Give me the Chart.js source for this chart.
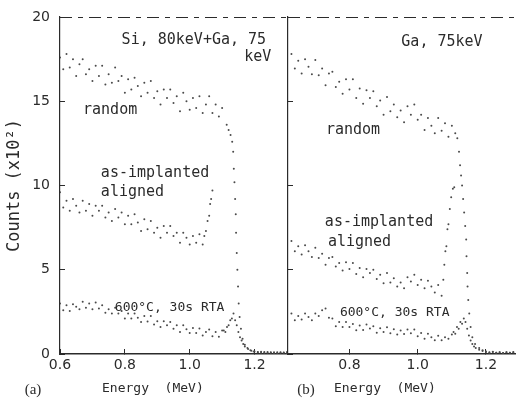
<!DOCTYPE html>
<html>
<head>
<meta charset="utf-8">
<script src="https://cdn.jsdelivr.net/npm/chart.js@4.4.1/dist/chart.umd.min.js"></script>
<style>
  body { margin: 0; background: #fff; }
  #wrap { position: relative; width: 516px; height: 401px; overflow: hidden; }
  canvas { position: absolute; top: 0; }
  #panelA { left: 0; }
  #panelB { left: 280px; }
</style>
</head>
<body>
<div id="wrap">
  <canvas id="panelA" width="288" height="401"></canvas>
  <canvas id="panelB" width="236" height="401"></canvas>
</div>
<script>
// ---------------- Data --------------------------------------------------

// axis ticks
const countTicks = [ 0, 5, 10, 15, 20 ] ;
const energyTicksA = [ 0.6, 0.8, 1.0, 1.2 ] ;
const energyTicksB = [ 0.8, 1.0, 1.2 ] ;

// (a) Si 80keV + Ga 75keV : channel energies (MeV) for the flat part
const energyA = [ 0.60, 0.61, 0.62, 0.63, 0.64, 0.65, 0.66, 0.67, 0.68, 0.69,
                  0.70, 0.71, 0.72, 0.73, 0.74, 0.75, 0.76, 0.77, 0.78, 0.79,
                  0.80, 0.81, 0.82, 0.83, 0.84, 0.85, 0.86, 0.87, 0.88, 0.89,
                  0.90, 0.91, 0.92, 0.93, 0.94, 0.95, 0.96, 0.97, 0.98, 0.99,
                  1.00, 1.01, 1.02, 1.03, 1.04, 1.05, 1.06, 1.07, 1.08, 1.09, 1.10 ] ;
const randomA = [ 17.6, 16.9, 17.8, 17.0, 17.5, 16.5, 17.2, 17.5, 16.6, 16.9,
                  16.2, 17.1, 16.5, 17.1, 16.0, 16.6, 16.1, 17.0, 16.2, 16.5,
                  15.5, 16.3, 15.7, 16.4, 15.9, 15.3, 16.1, 15.5, 16.2, 15.2,
                  15.6, 14.8, 15.7, 15.2, 15.7, 14.9, 15.3, 14.4, 15.5, 15.0,
                  14.5, 15.2, 14.6, 15.3, 14.3, 14.8, 15.3, 14.3, 14.8, 14.1, 14.6 ] ;
const alignedA = [ 9.6, 8.7, 9.1, 8.5, 9.2, 8.8, 8.4, 9.1, 8.5, 8.9,
                   8.2, 8.8, 8.5, 8.8, 8.1, 8.4, 7.9, 8.6, 8.1, 8.4,
                   7.7, 8.2, 7.7, 8.3, 7.8, 7.3, 8.0, 7.4, 7.9, 7.2,
                   7.5, 6.9, 7.6, 7.2, 7.6, 7.0, 7.2, 6.6, 7.2, 6.9,
                   6.5, 7.0, 6.6, 7.1, 6.5 ] ;
const rtaA = [ 3.0, 2.6, 2.9, 2.55, 2.95, 2.8, 2.65, 3.1, 2.75, 3.0,
               2.65, 3.05, 2.7, 2.9, 2.45, 2.65, 2.4, 2.75, 2.4, 2.55,
               2.1, 2.4, 2.1, 2.4, 2.15, 1.9, 2.25, 1.93, 2.25, 1.75,
               1.95, 1.6, 1.95, 1.7, 1.9, 1.5, 1.7, 1.3, 1.7, 1.47,
               1.25, 1.55, 1.25, 1.52, 1.1, 1.3, 1.45, 1.05, 1.3, 1.02, 1.4 ] ;

// (a) surface edges, sampled finer
const randomEdgeEA = [ 1.114, 1.12, 1.126, 1.131, 1.134, 1.136, 1.138, 1.140, 1.142, 1.143,
                       1.145, 1.147, 1.149, 1.151, 1.154, 1.158, 1.163, 1.17, 1.178, 1.187,
                       1.197, 1.21, 1.22, 1.23, 1.24, 1.25, 1.26, 1.27, 1.28, 1.29, 1.30 ] ;
const randomEdgeA = [ 13.6, 13.3, 13.0, 12.6, 12.0, 11.0, 10.2, 9.2, 8.3, 7.2,
                      6.0, 5.0, 4.0, 3.0, 2.2, 1.5, 0.9, 0.55, 0.35, 0.22,
                      0.15, 0.12, 0.08, 0.12, 0.07, 0.1, 0.06, 0.1, 0.07, 0.09, 0.06 ] ;
const alignedEdgeEA = [ 1.045, 1.05, 1.055, 1.06, 1.063, 1.066, 1.07 ] ;
const alignedEdgeA = [ 7.0, 7.3, 7.9, 8.2, 8.9, 9.2, 9.7 ] ;
const rtaEdgeEA = [ 1.105, 1.11, 1.115, 1.12, 1.125, 1.13, 1.135, 1.14, 1.145, 1.15,
                    1.155, 1.16, 1.165, 1.17, 1.18, 1.19, 1.20, 1.21, 1.22, 1.23,
                    1.24, 1.25, 1.26, 1.27, 1.28, 1.29, 1.30 ] ;
const rtaEdgeA = [ 1.4, 1.3, 1.6, 1.7, 2.0, 2.1, 2.4, 2.0, 1.7, 1.3,
                   1.0, 0.8, 0.6, 0.45, 0.3, 0.2, 0.15, 0.1, 0.14, 0.08,
                   0.12, 0.07, 0.11, 0.06, 0.1, 0.08, 0.12 ] ;

// (b) Ga 75keV
const energyB = [ 0.63, 0.64, 0.65, 0.66, 0.67, 0.68, 0.69, 0.70, 0.71, 0.72,
                  0.73, 0.74, 0.75, 0.76, 0.77, 0.78, 0.79, 0.80, 0.81, 0.82,
                  0.83, 0.84, 0.85, 0.86, 0.87, 0.88, 0.89, 0.90, 0.91, 0.92,
                  0.93, 0.94, 0.95, 0.96, 0.97, 0.98, 0.99, 1.00, 1.01, 1.02,
                  1.03, 1.04, 1.05, 1.06, 1.07, 1.08, 1.09, 1.10, 1.11 ] ;
const randomB = [ 17.8, 16.95, 17.4, 16.65, 17.5, 17.05, 16.6, 17.45, 16.55, 16.95,
                  15.95, 16.65, 16.75, 15.85, 16.15, 15.45, 16.3, 15.7, 16.3, 15.2,
                  15.75, 14.85, 15.65, 15.2, 15.6, 14.7, 15.05, 14.2, 15.25, 14.4,
                  14.8, 14.05, 14.45, 13.75, 14.7, 14.2, 14.8, 13.9, 14.2, 13.3,
                  14.0, 13.55, 13.1, 14.0, 13.25, 13.7, 12.9, 13.55, 13.1 ] ;
const alignedB = [ 6.7, 6.1, 6.4, 5.9, 6.45, 6.1, 5.75, 6.3, 5.7, 5.95,
                   5.3, 5.7, 5.75, 5.2, 5.4, 4.95, 5.45, 5.05, 5.4, 4.75,
                   5.1, 4.55, 5.05, 4.8, 5.0, 4.45, 4.7, 4.2, 4.8, 4.25,
                   4.5, 4.0, 4.25, 3.9, 4.55, 4.3, 4.7, 4.1, 4.4, 3.9,
                   4.35, 4.0, 3.65, 4.1, 3.45 ] ;
const rtaB = [ 2.4, 2.0, 2.25, 2.05, 2.4, 2.2, 2.0, 2.4, 2.25, 2.6,
               2.7, 2.15, 2.1, 1.65, 1.9, 1.6, 1.9, 1.6, 1.78, 1.41,
               1.69, 1.42, 1.75, 1.52, 1.64, 1.26, 1.53, 1.3, 1.59, 1.23,
               1.47, 1.16, 1.4, 1.18, 1.45, 1.23, 1.45, 1.05, 1.25, 0.9,
               1.2, 1.0, 0.82, 1.09, 0.82, 1.0, 0.9, 1.15 ] ;

const randomEdgeEB = [ 1.116, 1.121, 1.124, 1.127, 1.130, 1.133, 1.136, 1.139, 1.142, 1.143,
                       1.145, 1.146, 1.148, 1.151, 1.155, 1.16, 1.168, 1.18, 1.19, 1.20,
                       1.21, 1.22, 1.23, 1.24, 1.25, 1.26, 1.27, 1.28 ] ;
const randomEdgeB = [ 12.8, 12.0, 11.2, 10.6, 10.0, 9.2, 8.4, 7.6, 6.8, 5.8,
                      4.8, 4.0, 3.2, 2.4, 1.6, 1.0, 0.6, 0.35, 0.22, 0.15,
                      0.1, 0.13, 0.07, 0.11, 0.06, 0.1, 0.08, 0.12 ] ;
const alignedEdgeEB = [ 1.075, 1.078, 1.081, 1.084, 1.087, 1.09, 1.094, 1.098, 1.103, 1.107 ] ;
const alignedEdgeB = [ 4.4, 5.3, 6.1, 6.4, 7.4, 7.7, 8.6, 9.3, 9.8, 9.9 ] ;
const rtaEdgeEB = [ 1.105, 1.11, 1.115, 1.12, 1.125, 1.13, 1.135, 1.14, 1.145, 1.15,
                    1.155, 1.16, 1.165, 1.17, 1.18, 1.19, 1.20, 1.21, 1.22, 1.23,
                    1.24, 1.25, 1.26, 1.27, 1.28 ] ;
const rtaEdgeB = [ 1.3, 1.2, 1.6, 1.5, 1.9, 1.8, 2.1, 1.9, 1.5, 1.1,
                   0.8, 0.6, 0.45, 0.35, 0.25, 0.18, 0.12, 0.08, 0.12, 0.07,
                   0.1, 0.06, 0.1, 0.07, 0.09 ] ;

// ---------------- Look -------------------------------------------------
const INK = '#2b2b2b' ;
const DOT = '#4a4a4a' ;
const MONO = '"DejaVu Sans Mono", monospace' ;

// text notes, placed in data units (energy, counts)
const notesA = [
    { text: 'Si, 80keV+Ga, 75', e: 0.790, c: 18.64, size: 15 },
    { text: 'keV',              e: 1.168, c: 17.63, size: 15 },
    { text: 'random',           e: 0.671, c: 14.48, size: 15 },
    { text: 'as-implanted',     e: 0.726, c: 10.74, size: 15 },
    { text: 'aligned',          e: 0.726, c: 9.61,  size: 15 },
    { text: '600°C, 30s RTA',   e: 0.769, c: 2.73,  size: 13 }
] ;
const notesB = [
    { text: 'Ga, 75keV',        e: 0.952, c: 18.52, size: 15 },
    { text: 'random',           e: 0.731, c: 13.29, size: 15 },
    { text: 'as-implanted',     e: 0.728, c: 7.83,  size: 15 },
    { text: 'aligned',          e: 0.737, c: 6.65,  size: 15 },
    { text: '600°C, 30s RTA',   e: 0.772, c: 2.43,  size: 13 }
] ;

// ---------------- Helpers ----------------------------------------------
function pts( energy, counts ) {
    return counts.map( function( c, i ) { return { x: energy[i], y: c } ; } ) ;
}

function series( bulkE, bulk, edgeE, edge ) {
    return {
        data: pts( bulkE, bulk ).concat( pts( edgeE, edge ) ),
        pointRadius: 1,
        pointHoverRadius: 0,
        backgroundColor: DOT,
        borderWidth: 0,
        showLine: false
    } ;
}

const panelDecor = {
    id: 'panelDecor',
    afterDraw( chart, args, opts ) {
        const ctx = chart.ctx ;
        const area = chart.chartArea ;
        const xs = chart.scales.x, ys = chart.scales.y ;
        ctx.save() ;

        // dashed frame line along the top (20)
        const yTop = Math.round( ys.getPixelForValue( 20 ) ) + 0.5 ;
        ctx.strokeStyle = INK ;
        ctx.lineWidth = 1 ;
        ctx.setLineDash( [ 12, 6, 5, 6 ] ) ;
        ctx.beginPath() ;
        ctx.moveTo( area.left, yTop ) ;
        ctx.lineTo( chart.width, yTop ) ;
        ctx.stroke() ;
        ctx.setLineDash( [] ) ;

        // notes
        ctx.fillStyle = INK ;
        ctx.textBaseline = 'middle' ;
        ctx.textAlign = 'left' ;
        opts.notes.forEach( function( n ) {
            ctx.font = n.size + 'px ' + MONO ;
            ctx.fillText( n.text, xs.getPixelForValue( n.e ), ys.getPixelForValue( n.c ) ) ;
        } ) ;

        // caption under the axis
        ctx.font = '15px "Liberation Serif", serif' ;
        ctx.textAlign = 'center' ;
        ctx.fillText( opts.tag, opts.tagX, 390 ) ;
        ctx.font = '13px ' + MONO ;
        ctx.textAlign = 'left' ;
        ctx.fillText( 'Energy  (MeV)', opts.titleX, 389 ) ;
        ctx.restore() ;
    }
} ;

function xScale( min, max, ticks ) {
    return {
        type: 'linear', min: min, max: max,
        afterBuildTicks: function( s ) { s.ticks = ticks.map( function( v ) { return { value: v } ; } ) ; },
        afterFit: function( s ) { s.height = 47 ; },
        grid: { drawOnChartArea: false, drawTicks: true, tickLength: -5, color: INK, lineWidth: 1 },
        border: { display: true, color: INK, width: 1.5 },
        ticks: {
            padding: 8, color: INK, maxRotation: 0,
            font: { family: 'DejaVu Sans', size: 14 },
            callback: function( v ) { return v.toFixed( 1 ) ; }
        }
    } ;
}

function yScale( withLabels ) {
    return {
        type: 'linear', min: 0, max: 20,
        afterBuildTicks: function( s ) { s.ticks = countTicks.map( function( v ) { return { value: v } ; } ) ; },
        afterFit: function( s ) {
            s.width = withLabels ? 60 : 0 ;
            // labels may overhang the frame; keep the plot top fixed
            s.paddingTop = 0 ;
            s.paddingBottom = 0 ;
        },
        grid: { drawOnChartArea: false, drawTicks: true, tickLength: -5, color: INK, lineWidth: 1 },
        border: { display: true, color: INK, width: 1.2 },
        ticks: {
            display: withLabels, padding: 15, color: INK,
            font: { family: 'DejaVu Sans', size: 14 }
        },
        title: {
            display: withLabels, text: 'Counts (x10²)', color: INK,
            font: { family: 'DejaVu Sans Mono', size: 17 },
            padding: { top: 4, bottom: 0 }
        }
    } ;
}

function makeChart( id, datasets, xs, ys, padLeft, decor ) {
    return new Chart( document.getElementById( id ), {
        type: 'scatter',
        data: { datasets: datasets },
        options: {
            responsive: false,
            animation: false,
            devicePixelRatio: 1,
            layout: { padding: { top: 17, left: padLeft, right: 0, bottom: 0 } },
            scales: { x: xs, y: ys },
            plugins: {
                legend: { display: false },
                tooltip: { enabled: false },
                panelDecor: decor
            }
        },
        plugins: [ panelDecor ]
    } ) ;
}

// ---------------- Build ------------------------------------------------
makeChart( 'panelA', [
        series( energyA, randomA, randomEdgeEA, randomEdgeA ),
        series( energyA, alignedA, alignedEdgeEA, alignedEdgeA ),
        series( energyA, rtaA, rtaEdgeEA, rtaEdgeA )
    ],
    xScale( 0.6, 1.30, energyTicksA ), yScale( true ), 0,
    { notes: notesA, tag: '(a)', tagX: 33, titleX: 102 } ) ;

makeChart( 'panelB', [
        series( energyB, randomB, randomEdgeEB, randomEdgeB ),
        series( energyB, alignedB, alignedEdgeEB, alignedEdgeB ),
        series( energyB, rtaB, rtaEdgeEB, rtaEdgeB )
    ],
    xScale( 0.62, 1.285, energyTicksB ), yScale( false ), 8,
    { notes: notesB, tag: '(b)', tagX: 26, titleX: 54 } ) ;
</script>
</body>
</html>
